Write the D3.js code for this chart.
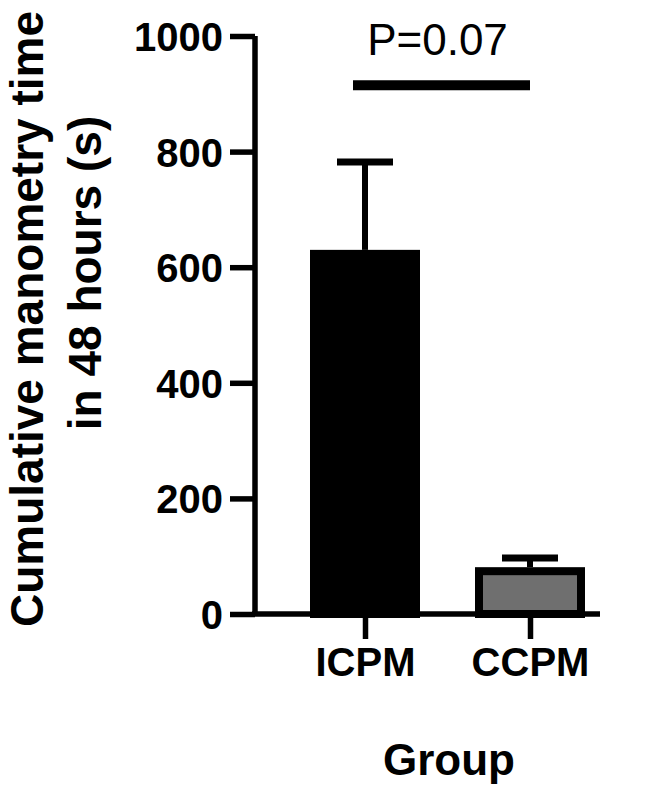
<!DOCTYPE html>
<html>
<head>
<meta charset="utf-8">
<script src="https://cdn.jsdelivr.net/npm/d3@7"></script>
<style>
  body { margin: 0; background: #fff; }
  text { font-family: Arial, "Liberation Sans", Helvetica, sans-serif; fill: #000; }
</style>
</head>
<body>
<script>
// data
var groups = ["ICPM", "CCPM"];
var means = [630, 81];
var sems = [152, 16];
var fills = ["#000000", "#6f6f6f"];
var yTicks = [0, 200, 400, 600, 800, 1000];
var pLabel = "P=0.07";

var width = 649, height = 794;

var svg = d3.select("body").append("svg")
    .attr("width", width)
    .attr("height", height);

var y = d3.scaleLinear().domain([0, 1000]).range([614, 36]);
var x = d3.scalePoint().domain(groups).range([365, 530]);
var barW = 110, capW = 56;

var data = groups.map(function(g, i) {
    return {group: g, mean: means[i], sem: sems[i], fill: fills[i]};
});

// y axis
var yAxis = svg.append("g")
    .attr("transform", "translate(255,0)")
    .call(d3.axisLeft(y).tickValues(yTicks).tickFormat(d3.format("d")).tickSize(25).tickPadding(7));
yAxis.select(".domain").attr("d", "M0," + y(1000) + "V" + y(0)).attr("stroke-width", 5.5);
yAxis.selectAll(".tick line").attr("stroke-width", 5.5);
yAxis.selectAll(".tick text")
    .style("font-size", "40px").style("font-weight", "bold")
    .attr("dy", "0.36em");

// x axis
var xAxis = svg.append("g")
    .attr("transform", "translate(0," + y(0) + ")")
    .call(d3.axisBottom(x).tickSize(25).tickPadding(9));
xAxis.select(".domain").attr("d", "M252,0H600").attr("stroke-width", 5.5);
xAxis.selectAll(".tick line").attr("stroke-width", 5.5);
xAxis.selectAll(".tick text")
    .style("font-size", "40px").style("font-weight", "bold");

// error bars (behind bars)
var err = svg.selectAll(".err").data(data).enter().append("g").attr("class", "err");
err.append("line")
    .attr("x1", function(d) { return x(d.group); })
    .attr("x2", function(d) { return x(d.group); })
    .attr("y1", function(d) { return y(d.mean); })
    .attr("y2", function(d) { return y(d.mean + d.sem); })
    .attr("stroke", "#000").attr("stroke-width", 6);
err.append("line")
    .attr("x1", function(d) { return x(d.group) - capW/2; })
    .attr("x2", function(d) { return x(d.group) + capW/2; })
    .attr("y1", function(d) { return y(d.mean + d.sem); })
    .attr("y2", function(d) { return y(d.mean + d.sem); })
    .attr("stroke", "#000").attr("stroke-width", 7);

// bars, border drawn inside the bar
var bw = 8;
svg.selectAll(".bar").data(data).enter().append("rect")
    .attr("class", "bar")
    .attr("x", function(d) { return x(d.group) - barW/2 + bw/2; })
    .attr("y", function(d) { return y(d.mean) + bw/2; })
    .attr("width", barW - bw)
    .attr("height", function(d) { return y(0) - y(d.mean) - bw/2; })
    .attr("fill", function(d) { return d.fill; })
    .attr("stroke", "#000").attr("stroke-width", bw);

// significance bar
svg.append("line")
    .attr("x1", x(groups[0]) - 12).attr("x2", x(groups[1]))
    .attr("y1", y(915)).attr("y2", y(915))
    .attr("stroke", "#000").attr("stroke-width", 10);
svg.append("text")
    .attr("x", (x(groups[0]) - 12 + x(groups[1])) / 2 - 4)
    .attr("y", y(967))
    .attr("text-anchor", "middle")
    .style("font-size", "44px")
    .text(pLabel);

// axis titles
svg.append("text")
    .attr("transform", "translate(43,319) rotate(-90)")
    .attr("text-anchor", "middle")
    .style("font-size", "46px").style("font-weight", "bold")
    .text("Cumulative manometry time");
svg.append("text")
    .attr("transform", "translate(101,273) rotate(-90)")
    .attr("text-anchor", "middle")
    .style("font-size", "46px").style("font-weight", "bold")
    .text("in 48 hours (s)");
svg.append("text")
    .attr("x", 449).attr("y", 775)
    .attr("text-anchor", "middle")
    .style("font-size", "44px").style("font-weight", "bold")
    .text("Group");
</script>
</body>
</html>
